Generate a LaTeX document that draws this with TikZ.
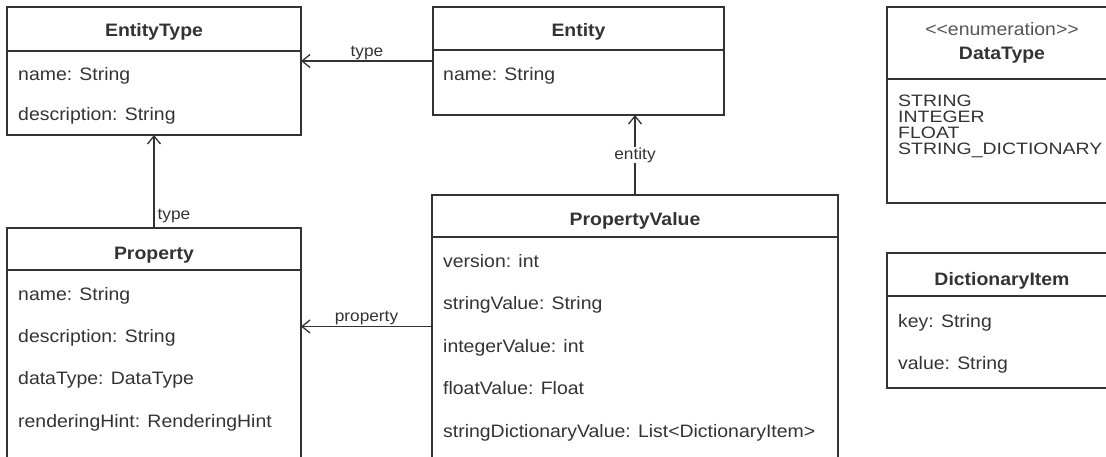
\documentclass[tikz,border=0pt]{standalone}
\usepackage{fontspec}
\setmainfont{Liberation Sans}[FakeStretch=1.08]
\newfontfamily\enumfont{Liberation Sans}[FakeStretch=1.18]
\usetikzlibrary{arrows.meta}
\definecolor{ink}{HTML}{333333}
\definecolor{soft}{HTML}{555555}
\begin{document}
\begin{tikzpicture}[x=1pt,y=-1pt,
  box/.style={draw=ink, line width=1.5pt, rectangle, anchor=north west, inner sep=0pt, outer sep=0pt},
  divider/.style={draw=ink, line width=1.5pt},
  title/.style={anchor=base, inner sep=0pt, text=ink, font=\fontsize{18}{20}\selectfont\bfseries},
  stereo/.style={anchor=base, inner sep=0pt, text=soft, font=\fontsize{18}{20}\selectfont},
  attr/.style={anchor=base west, inner sep=0pt, text=ink, font=\fontsize{18}{20}\selectfont},
  enumval/.style={anchor=base west, inner sep=0pt, text=ink, font=\enumfont\fontsize{16.5}{18}\selectfont},
  lbl/.style={inner sep=1pt, text=ink, font=\fontsize{16}{18}\selectfont},
  assoc/.style={draw=ink, line width=1.3pt, -{Straight Barb[length=8pt,width=13pt,line width=1.3pt]}},
]
\useasboundingbox (0,0) rectangle (1106,457);
\clip (0,0) rectangle (1106,457);

% EntityType
\node[box, minimum width=294pt, minimum height=128pt] (et) at (7,7) {};
\draw[divider] (et.west |- 0,51) -- (et.east |- 0,51);
\node[title] (etT) at (154,37) {EntityType};
\node[attr] (et1) at (18,81) {name: String};
\node[attr] (et2) at (18,121) {description: String};

% Entity
\node[box, minimum width=291pt, minimum height=108pt] (en) at (433,7) {};
\draw[divider] (en.west |- 0,50) -- (en.east |- 0,50);
\node[title] (enT) at (578.5,37) {Entity};
\node[attr] (en1) at (443,81) {name: String};

% PropertyValue
\node[box, minimum width=406pt, minimum height=263pt] (pv) at (432,195) {};
\draw[divider] (pv.west |- 0,237) -- (pv.east |- 0,237);
\node[title] (pvT) at (635,226) {PropertyValue};
\node[attr] (pv1) at (443,267) {version: int};
\node[attr] (pv2) at (443,309.5) {stringValue: String};
\node[attr] (pv3) at (443,352) {integerValue: int};
\node[attr] (pv4) at (443,394.5) {floatValue: Float};
\node[attr] (pv5) at (443,437) {stringDictionaryValue: List{<}DictionaryItem{>}};

% Property
\node[box, minimum width=294pt, minimum height=230pt] (pr) at (7,228) {};
\draw[divider] (pr.west |- 0,270) -- (pr.east |- 0,270);
\node[title] (prT) at (154,260) {Property};
\node[attr] (pr1) at (18,300) {name: String};
\node[attr] (pr2) at (18,342) {description: String};
\node[attr] (pr3) at (18,384.5) {dataType: DataType};
\node[attr] (pr4) at (18,427) {renderingHint: RenderingHint};

% DataType
\node[box, minimum width=230pt, minimum height=196pt] (dt) at (887,7) {};
\draw[divider] (dt.west |- 0,79) -- (dt.east |- 0,79);
\node[stereo] (dtS) at (1002,36) {{<}{<}enumeration{>}{>}};
\node[title] (dtT) at (1002,60) {DataType};
\node[enumval] (dt1) at (898,107) {STRING};
\node[enumval] (dt2) at (898,123) {INTEGER};
\node[enumval] (dt3) at (898,139) {FLOAT};
\node[enumval] (dt4) at (898,155) {STRING\_DICTIONARY};

% DictionaryItem
\node[box, minimum width=230pt, minimum height=135pt] (di) at (887,253) {};
\draw[divider] (di.west |- 0,296) -- (di.east |- 0,296);
\node[title] (diT) at (1002,286) {DictionaryItem};
\node[attr] (di1) at (898,327) {key: String};
\node[attr] (di2) at (898,369) {value: String};

% connectors
\draw[assoc] (en.west) -- (en.west -| et.east) node[lbl, midway, above] (l1) {type};
\draw[assoc] (pr.north) -- (et.south) node[lbl, pos=0, anchor=south west, xshift=2pt, yshift=4pt] (l2) {type};
\draw[assoc] (pv.west) -- (pv.west -| pr.east) node[lbl, midway, above] (l3) {property};
\draw[assoc] (pv.north) -- (pv.north |- en.south) node[lbl, midway, fill=white] (l4) {entity};
\end{tikzpicture}
\end{document}
